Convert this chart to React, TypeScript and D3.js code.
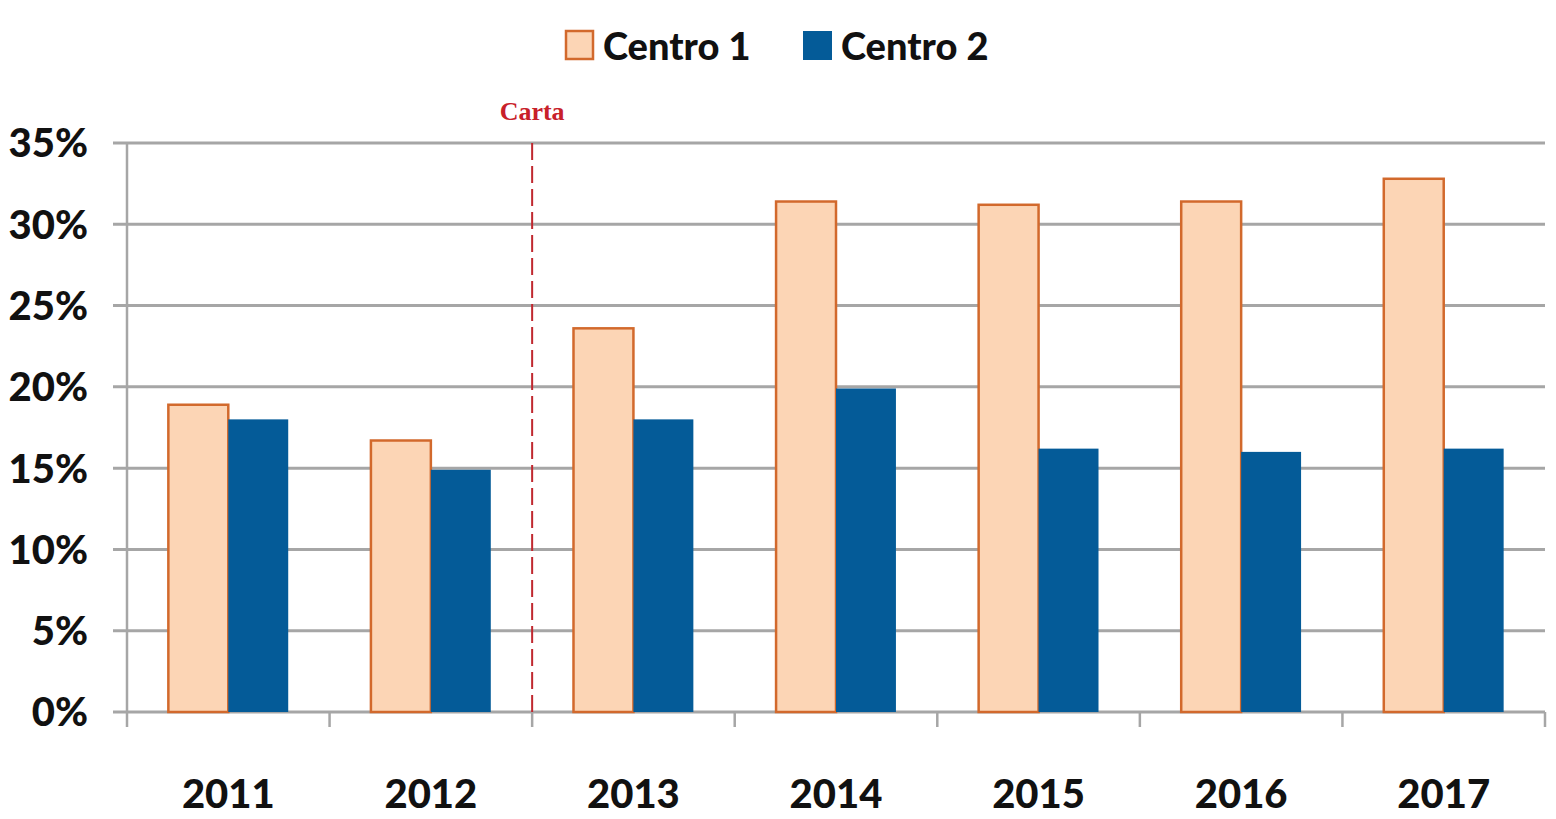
import * as d3 from 'd3';

const years = ['2011', '2012', '2013', '2014', '2015', '2016', '2017'];
const centro1 = [18.9, 16.7, 23.6, 31.4, 31.2, 31.4, 32.8];
const centro2 = [18.0, 14.9, 18.0, 19.9, 16.2, 16.0, 16.2];
const yTicks = [0, 5, 10, 15, 20, 25, 30, 35];
const seriesNames = ['Centro 1', 'Centro 2'];
const markerYear = '2013';
const markerLabel = 'Carta';

const W = 1556;
const H = 819;
const FONT = 'Lato, "Open Sans", sans-serif';

export default function App() {
  const x = d3.scaleBand<string>().domain(years).range([127, 1545]).padding(0);
  const inner = d3
    .scaleBand<string>()
    .domain(['c1', 'c2'])
    .range([0, x.bandwidth()])
    .paddingInner(0)
    .paddingOuter(0.69);
  const y = d3.scaleLinear().domain([0, 35]).range([712, 143]);

  const grid = '#a6a6a6';
  const c1Fill = '#fcd5b5';
  const c1Stroke = '#d2692c';
  const c2Fill = '#045b98';
  const markerX = x(markerYear)!;

  return (
    <svg
      width={W}
      height={H}
      style={{ position: 'absolute', left: 0, top: 0, background: '#fff' }}
    >
      {/* gridlines */}
      {yTicks.map((t) => (
        <g key={t}>
          <line x1={113} x2={1545} y1={y(t)} y2={y(t)} stroke={grid} strokeWidth={3} />
          <text
            x={88}
            y={y(t)}
            dy="0.36em"
            textAnchor="end"
            fontFamily={FONT}
            fontWeight={900}
            fontSize={40}
            fill="#111"
          >
            {t}%
          </text>
        </g>
      ))}

      {/* y axis line */}
      <line x1={127} x2={127} y1={143} y2={712} stroke={grid} strokeWidth={2.5} />

      {/* x ticks */}
      {[...years.map((yr) => x(yr)!), 1545].map((px, i) => (
        <line key={i} x1={px} x2={px} y1={712} y2={727} stroke={grid} strokeWidth={2.5} />
      ))}

      {/* bars */}
      {years.map((yr, i) => {
        const x0 = x(yr)!;
        return (
          <g key={yr}>
            <rect
              x={x0 + inner('c1')!}
              y={y(centro1[i])}
              width={inner.bandwidth()}
              height={y(0) - y(centro1[i])}
              fill={c1Fill}
              stroke={c1Stroke}
              strokeWidth={2.5}
            />
            <rect
              x={x0 + inner('c2')!}
              y={y(centro2[i])}
              width={inner.bandwidth()}
              height={y(0) - y(centro2[i])}
              fill={c2Fill}
            />
            <text
              x={x0 + x.bandwidth() / 2}
              y={808}
              textAnchor="middle"
              fontFamily={FONT}
              fontWeight={900}
              fontSize={40}
              fill="#111"
            >
              {yr}
            </text>
          </g>
        );
      })}

      {/* marker line */}
      <line
        x1={markerX}
        x2={markerX}
        y1={143}
        y2={712}
        stroke="#c0282f"
        strokeWidth={2}
        strokeDasharray="17 6"
      />
      <text
        x={markerX}
        y={120}
        textAnchor="middle"
        fontFamily='"Liberation Serif", "DejaVu Serif", serif'
        fontWeight={700}
        fontSize={26}
        fill="#c8202a"
      >
        {markerLabel}
      </text>

      {/* legend */}
      <g>
        <rect x={566} y={31} width={27} height={28} fill={c1Fill} stroke={c1Stroke} strokeWidth={2.5} />
        <text x={603} y={60} fontFamily={FONT} fontWeight={900} fontSize={38} fill="#111">
          {seriesNames[0]}
        </text>
        <rect x={803} y={31} width={29} height={29} fill={c2Fill} />
        <text x={841} y={60} fontFamily={FONT} fontWeight={900} fontSize={38} fill="#111">
          {seriesNames[1]}
        </text>
      </g>
    </svg>
  );
}
